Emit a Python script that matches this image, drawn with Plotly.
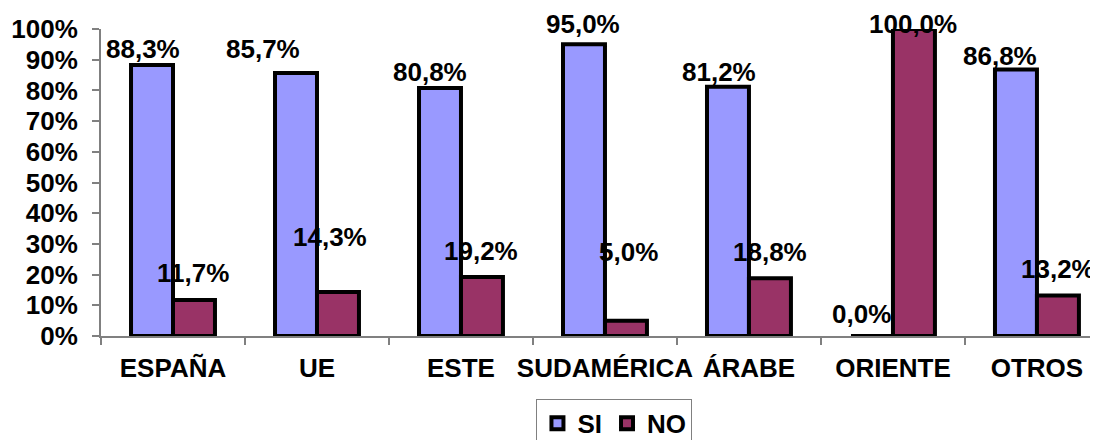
import plotly.graph_objects as go

categories = ["ESPAÑA", "UE", "ESTE", "SUDAMÉRICA", "ÁRABE", "ORIENTE", "OTROS"]
si_values = [88.3, 85.7, 80.8, 95.0, 81.2, 0.0, 86.8]
no_values = [11.7, 14.3, 19.2, 5.0, 18.8, 100.0, 13.2]

# label placement (manually moved labels in the original): height in % and horizontal shift in px
si_label_y = [93.6, 93.5, 86.0, 101.6, 86.0, 7.2, 91.2]
no_label_y = [20.5, 32.1, 27.7, 27.4, 27.4, 101.5, 21.7]
si_label_dx = [-30, -54, -31, -22, -30, -31, -37]
no_label_dx = [20, 13, 20, 24, 21, 20, 21]

tick_vals = [i / 10 for i in range(11)]
tick_text = [f"{i * 10}%" for i in range(11)]

FONT = "Liberation Sans, Arial, sans-serif"
SI_COLOR = "#9999FF"
NO_COLOR = "#993366"
FS = 26

def fmt(v):
    return f"{v:.1f}".replace(".", ",") + "%"

fig = go.Figure()
fig.add_trace(go.Bar(
    name="SI", x=categories, y=[v / 100 for v in si_values],
    marker=dict(color=SI_COLOR, line=dict(color="black", width=4)),
))
fig.add_trace(go.Bar(
    name="NO", x=categories, y=[v / 100 for v in no_values],
    marker=dict(color=NO_COLOR, line=dict(color="black", width=4)),
))

annotations = []
for i, c in enumerate(categories):
    annotations.append(dict(
        x=c, y=si_label_y[i] / 100, xref="x", yref="paper", text=fmt(si_values[i]),
        showarrow=False, xshift=si_label_dx[i], yanchor="middle",
        font=dict(family=FONT, size=FS, color="black", weight="bold"),
    ))
    annotations.append(dict(
        x=c, y=no_label_y[i] / 100, xref="x", yref="paper", text=fmt(no_values[i]),
        showarrow=False, xshift=no_label_dx[i], yanchor="middle",
        font=dict(family=FONT, size=FS, color="black", weight="bold"),
    ))

# the page body has an 8px default margin, so the figure is 8px smaller each way
fig.update_layout(
    width=1090, height=432,
    margin=dict(l=93, r=0, t=21, b=104, autoexpand=False),
    paper_bgcolor="white", plot_bgcolor="white",
    barmode="group", bargap=0.417, bargroupgap=0,
    font=dict(family=FONT, size=FS, color="black"),
    showlegend=True,
    legend=dict(
        orientation="h", x=0.515, xanchor="center", y=-0.205, yanchor="top",
        bordercolor="#808080", borderwidth=1,
        font=dict(family=FONT, size=FS, color="black", weight="bold"),
        itemwidth=30, tracegroupgap=0,
    ),
    annotations=annotations,
)
fig.update_xaxes(
    range=[-0.5, 6.424], showline=True, linecolor="#808080", linewidth=2,
    ticks="outside", tickson="boundaries", ticklen=7, tickcolor="#808080", tickwidth=2,
    tickangle=0, automargin=False, ticklabelstandoff=8,
    tickfont=dict(family=FONT, size=FS, color="black", weight="bold"),
    showgrid=False, zeroline=False, fixedrange=True,
)
fig.update_yaxes(
    range=[0, 1], tickvals=tick_vals, ticktext=tick_text,
    showline=True, linecolor="#808080", linewidth=2, automargin=False,
    ticks="outside", ticklen=7, tickcolor="#808080", tickwidth=2,
    tickfont=dict(family=FONT, size=FS, color="black", weight="bold"),
    showgrid=False, zeroline=False, ticklabelstandoff=9,
)

fig.write_html("out.html")
